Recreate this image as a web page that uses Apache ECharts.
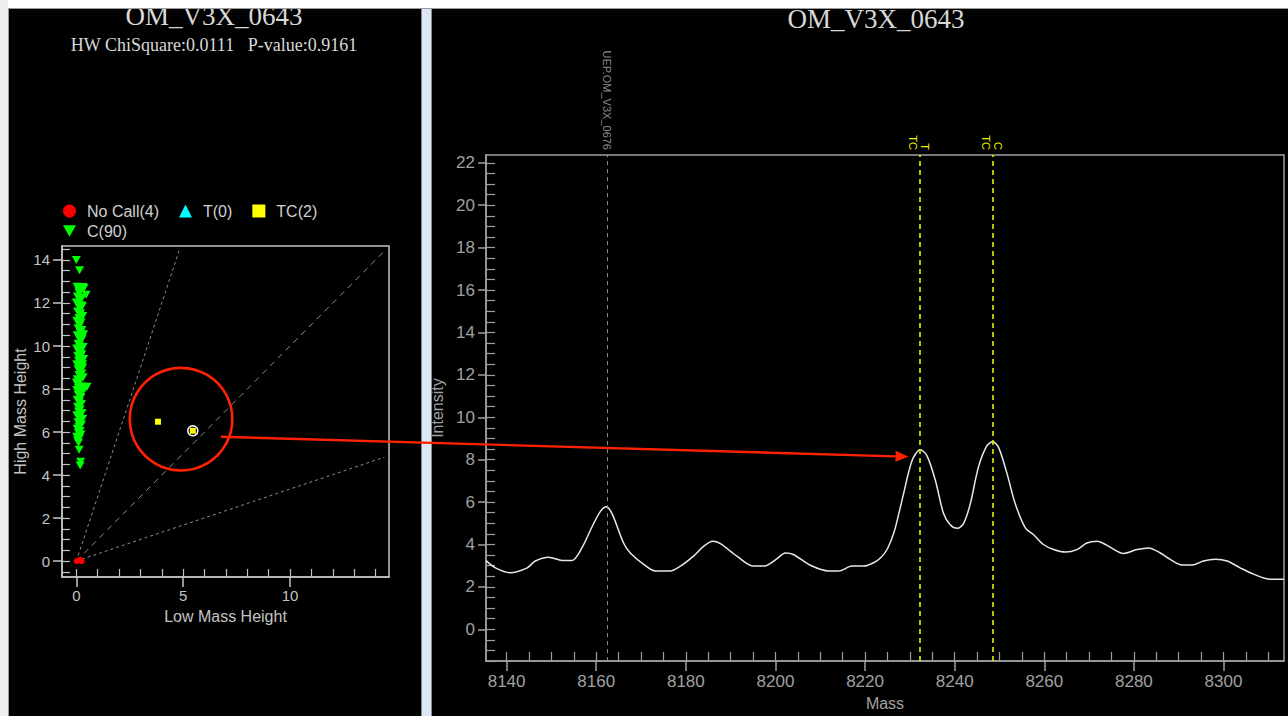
<!DOCTYPE html>
<html><head><meta charset="utf-8">
<script src="https://cdn.jsdelivr.net/npm/echarts@6/dist/echarts.min.js"></script>
<style>html,body{margin:0;padding:0;background:#000;overflow:hidden;}#c{width:1288px;height:716px;}</style>
</head><body><div id="c"></div>
<script>
// ---------- texts ----------
const leftTitle = 'OM_V3X_0643';
const hwText = 'HW ChiSquare:0.0111   P-value:0.9161';
const rightTitle = 'OM_V3X_0643';
const legendRow1 = ['No Call(4)', 'T(0)', 'TC(2)'];
const legendRow2 = ['C(90)'];

// ---------- cluster plot data (Low Mass Height, High Mass Height) ----------
const noCallPts = [[0.02, 0.00], [0.12, 0.03], [0.18, 0.06], [0.25, 0.00]];
const tPts = [];
const tcPts = [[3.82, 6.48], [5.45, 6.06]];
const selectedPt = [[5.45, 6.06]];
const cPts = [
  [0.00,14.00],[0.15,13.52],[0.03,12.76],[0.31,12.74],[0.46,12.38],[0.36,12.70],[0.12,12.55],[0.22,12.62],
  [0.05,12.30],[0.18,12.20],[0.28,12.25],[0.00,12.02],[0.10,11.95],[0.24,11.90],[0.15,11.75],[0.06,11.60],
  [0.20,11.52],[0.30,11.40],[0.12,11.30],[0.02,11.18],[0.22,11.10],[0.16,10.95],[0.08,10.82],[0.26,10.75],
  [0.18,10.62],[0.04,10.50],[0.12,10.41],[0.28,10.35],[0.20,10.22],[0.08,10.10],[0.15,10.02],[0.32,9.95],
  [0.02,9.88],[0.22,9.80],[0.12,9.70],[0.26,9.62],[0.06,9.55],[0.18,9.48],[0.34,9.40],[0.10,9.32],
  [0.24,9.25],[0.02,9.15],[0.16,9.08],[0.30,9.00],[0.08,8.92],[0.20,8.85],[0.26,8.72],[0.12,8.65],
  [0.32,8.55],[0.04,8.45],[0.18,8.38],[0.50,8.10],[0.42,8.06],[0.26,8.12],[0.10,8.05],[0.02,7.95],
  [0.16,7.88],[0.08,7.75],[0.22,7.62],[0.04,7.50],[0.14,7.40],[0.24,7.30],[0.06,7.18],[0.18,7.05],
  [0.10,6.95],[0.26,6.88],[0.02,6.78],[0.14,6.68],[0.20,6.55],[0.08,6.45],[0.24,6.35],[0.12,6.25],
  [0.04,6.15],[0.18,6.05],[0.10,5.95],[0.22,5.88],[0.02,5.78],[0.14,5.70],[0.06,5.62],[0.10,5.50],
  [0.13,5.18],[0.20,4.62],[0.18,4.45],[0.28,11.85],[0.34,10.55],[0.30,9.15],[0.28,7.85],[0.30,6.62],
  [0.00,8.30],[0.14,12.45]
];
const refSlopes = [3.0, 1.0, 0.335];          // cluster boundary lines through origin
const scatterXLabels = [0, 5, 10];
const scatterYLabels = [0, 2, 4, 6, 8, 10, 12, 14];
const scatterRange = { xMin: -0.67, xMax: 14.63, yMin: -0.74, yMax: 14.65 };

// ---------- spectrum data ----------
const massVals = [8135.4,8137.5,8140.8,8144.6,8146.4,8149.4,8152.4,8154.6,8156.8,8159.1,8160.9,8162.2,8163.5,8166.1,
  8167.6,8170.6,8173.2,8176.5,8178.8,8181.7,8184.0,8186.0,8187.7,8191.4,8195.1,8197.4,8200.3,8202.2,8204.0,8207.8,
  8211.9,8214.1,8217.1,8219.7,8222.0,8223.6,8225.0,8226.5,8227.7,8228.6,8230.5,8232.3,8233.8,8235.7,8237.5,8239.0,
  8240.6,8242.0,8243.5,8245.3,8247.2,8248.5,8249.8,8251.7,8253.5,8255.8,8257.6,8259.8,8262.1,8264.7,8267.3,8269.5,
  8271.8,8274.0,8277.7,8280.7,8283.3,8285.9,8288.1,8290.7,8293.0,8295.5,8298.2,8300.8,8303.7,8306.7,8310.4,8313.5];
const intensityVals = [3.24,2.90,2.67,2.90,3.22,3.40,3.25,3.25,3.84,4.85,5.55,5.78,5.47,4.07,
  3.60,3.06,2.75,2.75,2.98,3.45,3.92,4.15,4.04,3.45,2.98,2.98,3.32,3.60,3.53,3.02,
  2.75,2.75,2.98,2.98,3.15,3.40,3.80,4.60,5.60,6.40,7.96,8.47,8.19,7.02,5.47,4.93,
  4.76,5.00,5.93,7.65,8.66,8.84,8.58,7.33,5.93,4.77,4.46,4.00,3.76,3.64,3.76,4.07,
  4.15,3.96,3.58,3.76,3.84,3.60,3.30,3.03,3.03,3.22,3.30,3.22,2.90,2.60,2.36,2.36];
const massLabels = [8140, 8160, 8180, 8200, 8220, 8240, 8260, 8280, 8300];
const intensityLabels = [0, 2, 4, 6, 8, 10, 12, 14, 16, 18, 20, 22];
const specRange = { xMin: 8135.4, xMax: 8313.5, yMin: -1.5, yMax: 22.37 };
const markerNames = ['UEP.OM_V3X_0676', 'T\nTC', 'C\nTC'];
const markerMass = [8162.4, 8232.3, 8248.5];
const markerKind = ['uep', 'allele', 'allele'];

// annotation (circle round the TC calls, arrow to the T peak)
const circleCenter = [4.9, 6.6];
const circleRadiusX = 2.4;
const arrowFrom = [6.77, 5.78];
const arrowTo = [8229.7, 8.14];

// ---------- helpers ----------
function steps(a, b, s) { const r = []; for (let v = a; v <= b + 1e-9; v += s) r.push(+v.toFixed(3)); return r; }
const scatterXMinor = steps(0, 14, 1);
const scatterYMinor = steps(-0.5, 14.5, 0.5);
const massMinor = steps(8140, 8310, 5);
const intensityMinor = steps(-1.5, 22, 0.5);

const SANS = 'Liberation Sans';
const SERIF = 'Liberation Serif';
const LGRAY = '#c4c4c4';
const RGRAY = '#a0a0a0';
const downTri = 'path://M0,0L10,0L5,9Z';

const refLines = refSlopes.map(k => {
  const xe = Math.min(scatterRange.xMax, scatterRange.yMax / k) * 0.985;
  return [[0, 0], [xe, k * xe]];
});

const chart = echarts.init(document.getElementById('c'), null, { renderer: 'svg', width: 1288, height: 716 });

function majorAxis(grid, r, dim, labels, name, gap, color, fs, tickLen, margin) {
  return {
    gridIndex: grid, type: 'value', min: r[0], max: r[1],
    position: dim === 'x' ? 'bottom' : 'left', offset: 0,
    name: name, nameLocation: 'middle', nameGap: gap,
    nameTextStyle: { color: color, fontSize: 16, fontFamily: SANS },
    axisLine: { show: true, onZero: false, lineStyle: { color: color, width: 1.5 } },
    axisTick: { show: true, customValues: labels, inside: false, length: tickLen, lineStyle: { color: color, width: 1.5 } },
    axisLabel: { customValues: labels, color: color, fontSize: fs, fontFamily: SANS, margin: margin, formatter: v => String(v) },
    splitLine: { show: false }
  };
}
function minorAxis(grid, r, dim, ticks, color, len) {
  return {
    gridIndex: grid, type: 'value', min: r[0], max: r[1],
    position: dim === 'x' ? 'bottom' : 'left', offset: 0,
    axisLine: { show: false, onZero: false },
    axisTick: { show: true, customValues: ticks, inside: true, length: len, lineStyle: { color: color, width: 1.2 } },
    axisLabel: { show: false },
    splitLine: { show: false }
  };
}

const specData = massVals.map((m, i) => [m, intensityVals[i]]);

chart.setOption({
  backgroundColor: '#000',
  animation: false,
  grid: [
    { left: 62, top: 246, width: 327, height: 331, show: true, borderColor: LGRAY, borderWidth: 1.5, backgroundColor: 'transparent' },
    { left: 486, top: 155, width: 798, height: 512, show: true, borderColor: RGRAY, borderWidth: 1.5, backgroundColor: 'transparent' }
  ],
  legend: [
    { data: [{ name: legendRow1[0], icon: 'circle' }, { name: legendRow1[1], icon: 'triangle' }, { name: legendRow1[2], icon: 'rect' }],
      left: 63, top: 203, padding: 0, itemWidth: 13, itemHeight: 13, itemGap: 20, selectedMode: false,
      textStyle: { color: '#d0d0d0', fontSize: 16, fontFamily: SANS, padding: [0, 0, 0, 6] } },
    { data: [{ name: legendRow2[0], icon: downTri }],
      left: 63, top: 223, padding: 0, itemWidth: 13, itemHeight: 13, selectedMode: false,
      textStyle: { color: '#d0d0d0', fontSize: 16, fontFamily: SANS, padding: [0, 0, 0, 6] } }
  ],
  xAxis: [
    majorAxis(0, [scatterRange.xMin, scatterRange.xMax], 'x', scatterXLabels, 'Low Mass Height', 31, LGRAY, 15, 10, 11),
    minorAxis(0, [scatterRange.xMin, scatterRange.xMax], 'x', scatterXMinor, LGRAY, 8),
    majorAxis(1, [specRange.xMin, specRange.xMax], 'x', massLabels, 'Mass', 31, RGRAY, 17, 10, 12),
    minorAxis(1, [specRange.xMin, specRange.xMax], 'x', massMinor, RGRAY, 9)
  ],
  yAxis: [
    majorAxis(0, [scatterRange.yMin, scatterRange.yMax], 'y', scatterYLabels, 'High Mass Height', 34, LGRAY, 15, 9, 12),
    minorAxis(0, [scatterRange.yMin, scatterRange.yMax], 'y', scatterYMinor, LGRAY, 8),
    majorAxis(1, [specRange.yMin, specRange.yMax], 'y', intensityLabels, 'Intensity', 37, RGRAY, 17, 8, 11),
    minorAxis(1, [specRange.yMin, specRange.yMax], 'y', intensityMinor, RGRAY, 9)
  ],
  series: [
    { type: 'line', xAxisIndex: 0, yAxisIndex: 0, data: refLines[0], symbol: 'none', silent: true,
      lineStyle: { color: '#8c8c8c', width: 1, type: [3, 3] }, z: 1 },
    { type: 'line', xAxisIndex: 0, yAxisIndex: 0, data: refLines[1], symbol: 'none', silent: true,
      lineStyle: { color: '#8c8c8c', width: 1, type: [6, 5] }, z: 1 },
    { type: 'line', xAxisIndex: 0, yAxisIndex: 0, data: refLines[2], symbol: 'none', silent: true,
      lineStyle: { color: '#8c8c8c', width: 1, type: [3, 3] }, z: 1 },
    { name: 'C(90)', type: 'scatter', xAxisIndex: 0, yAxisIndex: 0, data: cPts, symbol: downTri, symbolSize: [9, 8],
      itemStyle: { color: '#00ff00', opacity: 1 }, z: 3 },
    { name: 'No Call(4)', type: 'scatter', xAxisIndex: 0, yAxisIndex: 0, data: noCallPts, symbol: 'circle', symbolSize: 6,
      itemStyle: { color: '#ff0000', opacity: 1 }, z: 4 },
    { name: 'T(0)', type: 'scatter', xAxisIndex: 0, yAxisIndex: 0, data: tPts, symbol: 'triangle', symbolSize: 9,
      itemStyle: { color: '#00ffff', opacity: 1 }, z: 4 },
    { name: 'selected', type: 'scatter', xAxisIndex: 0, yAxisIndex: 0, data: selectedPt, symbol: 'circle', symbolSize: 10,
      itemStyle: { color: 'transparent', borderColor: '#ffffff', borderWidth: 1.5, opacity: 1 }, z: 4 },
    { name: 'TC(2)', type: 'scatter', xAxisIndex: 0, yAxisIndex: 0, data: tcPts, symbol: 'rect', symbolSize: 6,
      itemStyle: { color: '#ffff00', opacity: 1 }, z: 5 },
    { name: 'spectrum', type: 'line', xAxisIndex: 2, yAxisIndex: 2, data: specData, symbol: 'none', smooth: 0.3,
      lineStyle: { color: '#e8e8e8', width: 1.5 }, z: 3,
      markLine: {
        silent: true, symbol: ['none', 'none'], label: { show: false }, animation: false,
        data: markerMass.map((m, i) => ({
          xAxis: m,
          lineStyle: markerKind[i] === 'uep'
            ? { color: '#8c8c8c', width: 1, type: [4, 4] }
            : { color: '#eeee00', width: 1.6, type: [5, 4] }
        }))
      } }
  ]
});

// ---------- frame, titles, annotations ----------
const g = [];
g.push({ type: 'text', z: 50, x: 214, y: 16, style: { text: leftTitle, fontSize: 27, fontFamily: SERIF, fill: '#d8d8d8', align: 'center', verticalAlign: 'middle' } });
g.push({ type: 'text', z: 50, x: 214, y: 45, style: { text: hwText, fontSize: 18, fontFamily: SERIF, fill: '#d8d8d8', align: 'center', verticalAlign: 'middle' } });
g.push({ type: 'text', z: 50, x: 876, y: 19, style: { text: rightTitle, fontSize: 27, fontFamily: SERIF, fill: '#d8d8d8', align: 'center', verticalAlign: 'middle' } });

const specTop = chart.convertToPixel({ gridIndex: 1 }, [specRange.xMin, specRange.yMax])[1];
markerNames.forEach((nm, i) => {
  const px = chart.convertToPixel({ gridIndex: 1 }, [markerMass[i], specRange.yMax])[0];
  const uep = markerKind[i] === 'uep';
  g.push({ type: 'text', z: 50, x: px + (uep ? 0 : -1), y: specTop - 5, rotation: -Math.PI / 2,
    style: { text: nm, fontSize: 11, fontFamily: SANS, fill: uep ? '#8c8c8c' : '#eeee00', align: 'right', verticalAlign: 'middle', lineHeight: 12 } });
});

// chrome: top strip, left strip, divider
g.push({ type: 'rect', z: 100, shape: { x: 0, y: 0, width: 1288, height: 8 }, style: { fill: '#ffffff' } });
g.push({ type: 'line', z: 100, shape: { x1: 0, y1: 8.5, x2: 1288, y2: 8.5 }, style: { stroke: '#9a9a9a', lineWidth: 1 } });
g.push({ type: 'rect', z: 100, shape: { x: 0, y: 0, width: 8, height: 716 }, style: { fill: '#eeeeee' } });
g.push({ type: 'line', z: 100, shape: { x1: 8.5, y1: 8, x2: 8.5, y2: 716 }, style: { stroke: '#9a9a9a', lineWidth: 1 } });
g.push({ type: 'rect', z: 100, shape: { x: 421, y: 9, width: 11, height: 707 }, style: { fill: '#dbe6f6' } });
g.push({ type: 'line', z: 100, shape: { x1: 421.5, y1: 9, x2: 421.5, y2: 716 }, style: { stroke: '#8a8a8a', lineWidth: 1 } });
g.push({ type: 'line', z: 100, shape: { x1: 431.5, y1: 9, x2: 431.5, y2: 716 }, style: { stroke: '#8a8a8a', lineWidth: 1 } });

// red circle
const cc = chart.convertToPixel({ gridIndex: 0 }, circleCenter);
const ce = chart.convertToPixel({ gridIndex: 0 }, [circleCenter[0] + circleRadiusX, circleCenter[1]]);
const rad = ce[0] - cc[0];
g.push({ type: 'circle', z: 90, shape: { cx: cc[0], cy: cc[1], r: rad }, style: { fill: 'none', stroke: '#ff2200', lineWidth: 2.6 } });

// red arrow
const a0 = chart.convertToPixel({ gridIndex: 0 }, arrowFrom);
const a1 = chart.convertToPixel({ gridIndex: 1 }, arrowTo);
const dx = a1[0] - a0[0], dy = a1[1] - a0[1], L = Math.hypot(dx, dy);
const ux = dx / L, uy = dy / L, nx = -uy, ny = ux;
const head = 13, hw = 5.5;
const bx = a1[0] - ux * head, by = a1[1] - uy * head;
g.push({ type: 'line', z: 110, shape: { x1: a0[0], y1: a0[1], x2: bx, y2: by }, style: { stroke: '#ff2200', lineWidth: 2.4 } });
g.push({ type: 'polygon', z: 110, shape: { points: [[a1[0], a1[1]], [bx + nx * hw, by + ny * hw], [bx - nx * hw, by - ny * hw]] }, style: { fill: '#ff2200' } });

chart.setOption({ graphic: g });
</script>
</body></html>
